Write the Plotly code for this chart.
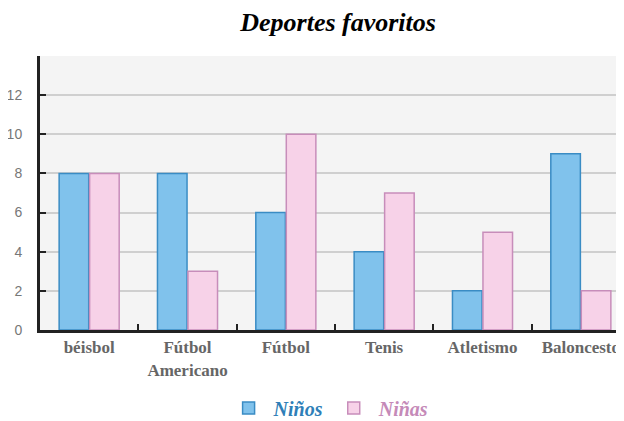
import plotly.graph_objects as go

categories = ["béisbol", "Fútbol<br>Americano", "Fútbol", "Tenis", "Atletismo", "Baloncesto"]
ninos = [8, 8, 6, 4, 2, 9]
ninas = [8, 3, 10, 7, 5, 2]
y_ticks = [0, 2, 4, 6, 8, 10, 12]

SERIF = "Liberation Serif"

fig = go.Figure()
fig.add_trace(go.Bar(
    x=categories, y=ninos,
    name="<span style='color:#2f7fb8;font-family:\"Liberation Serif\"'><b><i>Niños</i></b></span>",
    marker=dict(color="#80c2ec", line=dict(color="#3a8cc4", width=1.5)),
))
fig.add_trace(go.Bar(
    x=categories, y=ninas,
    name="<span style='color:#c58ab8;font-family:\"Liberation Serif\"'><b><i>Niñas</i></b></span>",
    marker=dict(color="#f7d2e8", line=dict(color="#c78dba", width=1.5)),
))

fig.update_layout(
    width=624, height=421,
    margin=dict(l=32, r=2, t=48, b=99, autoexpand=False),
    paper_bgcolor="white",
    plot_bgcolor="#f4f4f4",
    barmode="group",
    bargap=0.38,
    bargroupgap=0.03,
    title=dict(
        text="<b><i>Deportes favoritos</i></b>",
        x=0.529, xanchor="center", y=0.967, yanchor="middle",
        font=dict(family=SERIF, size=26, color="black"),
    ),
    legend=dict(
        orientation="h", x=0.49, xanchor="center", y=-0.285, yanchor="middle",
        font=dict(family=SERIF, size=20),
        itemwidth=40,
    ),
    showlegend=True,
)
fig.update_xaxes(
    showline=True, linecolor="#222", linewidth=3,
    ticks="inside", tickson="boundaries", ticklen=6, tickwidth=2, tickcolor="#222",
    tickangle=0, automargin=False,
    tickfont=dict(family=SERIF, size=17, color="#666", weight="bold"),
    showgrid=False,
)
fig.update_yaxes(
    range=[0, 14], tickvals=y_ticks,
    showline=True, linecolor="#222", linewidth=3,
    ticks="inside", ticklen=6, tickwidth=2, tickcolor="#222",
    ticklabelstandoff=12, automargin=False,
    tickfont=dict(family="Liberation Sans", size=14, color="#777"),
    showgrid=True, gridcolor="#cfcfcf", gridwidth=1.5,
    zeroline=False,
)

fig.write_html("out.html")
